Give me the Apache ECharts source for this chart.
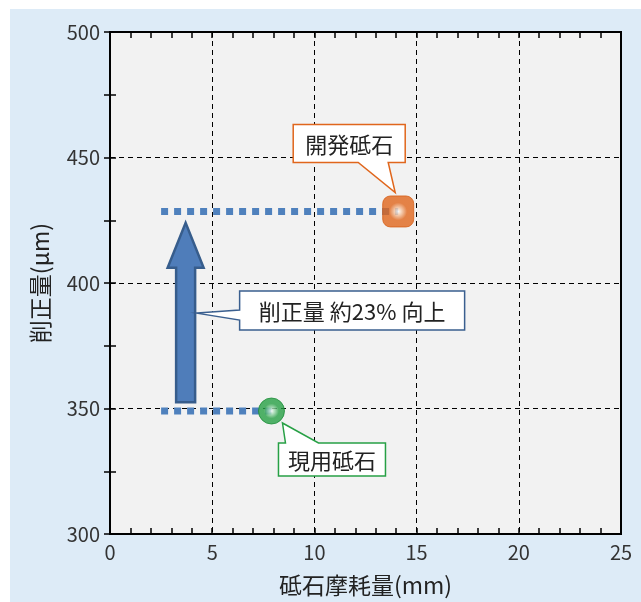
<!DOCTYPE html>
<html>
<head>
<meta charset="utf-8">
<script src="https://cdn.jsdelivr.net/npm/echarts@6/dist/echarts.min.js"></script>
<style>
  html, body { margin: 0; padding: 0; background: #ffffff; }
  #panel { position: absolute; left: 10px; top: 9px; right: 0; bottom: 0; background: #ddebf7; }
  #main { position: absolute; left: 0; top: 0; width: 641px; height: 602px; }
</style>
</head>
<body>
<div id="panel"></div>
<div id="main"></div>
<script>
// データ
var stoneNames = ['現用砥石', '開発砥石'];
var wearMm = [7.9, 14.1];          // 砥石摩耗量
var removalUm = [349, 428.5];      // 削正量
var guideStartMm = 2.5;            // 点線の始点
var arrowX = [3.7];
var arrowFrom = [352.5];
var arrowTo = [424];
var arrowNote = ['削正量 約23% 向上'];
var arrowNoteAt = [388];

var X_MIN = 0, X_MAX = 25, X_STEP = 5;
var Y_MIN = 300, Y_MAX = 500, Y_STEP = 50;

var FONT = '"Noto Sans CJK JP", "Noto Sans", sans-serif';
var stoneColors = ['#27a045', '#e0661c'];
var stoneEdge = ['#1f8f3b', '#d65f18'];

// 吹き出しの形 (アンカーからのピクセル)
var bubbles = [
    // 現用砥石: 下に箱、しっぽは上
    {box: [7, 32, 107, 33], tail: 'top', base: [14, 47], tip: [11, 12]},
    // 開発砥石: 上に箱、しっぽは下
    {box: [-105, -87, 112, 38], tail: 'bottom', base: [-40, -10], tip: [-3, -19]}
];

function bubblePoints(cx, cy, b) {
    var x0 = cx + b.box[0], y0 = cy + b.box[1];
    var x1 = x0 + b.box[2], y1 = y0 + b.box[3];
    var tip = [cx + b.tip[0], cy + b.tip[1]];
    if (b.tail === 'top') {
        return [[x0, y0], [cx + b.base[0], y0], tip, [cx + b.base[1], y0], [x1, y0], [x1, y1], [x0, y1]];
    }
    if (b.tail === 'bottom') {
        return [[x0, y0], [x1, y0], [x1, y1], [cx + b.base[1], y1], tip, [cx + b.base[0], y1], [x0, y1]];
    }
    // left
    return [[x0, y0], [x1, y0], [x1, y1], [x0, y1], [x0, cy + b.base[1]], tip, [x0, cy + b.base[0]]];
}

var chartDom = document.getElementById('main');
var myChart = echarts.init(chartDom);
var option;

var markerData = stoneNames.map(function (name, i) {
    return {
        name: name,
        value: [wearMm[i], removalUm[i]],
        symbol: i === 0 ? 'circle' : 'roundRect',
        symbolSize: i === 0 ? 26 : 31,
        itemStyle: {
            color: {
                type: 'radial', x: 0.5, y: 0.5, r: 0.5,
                colorStops: [
                    {offset: 0, color: '#ffffff'},
                    {offset: 0.12, color: i === 0 ? '#c8ecd2' : '#fbe0c8'},
                    {offset: 0.55, color: stoneColors[i]},
                    {offset: 1, color: stoneColors[i]}
                ]
            },
            borderColor: stoneEdge[i],
            borderWidth: 1
        }
    };
});

var guideSeries = stoneNames.map(function (name, i) {
    return {
        type: 'line',
        data: [[guideStartMm, removalUm[i]], [wearMm[i], removalUm[i]]],
        symbol: 'none',
        silent: true,
        lineStyle: {color: '#4f81bd', width: 7, type: [7, 6], cap: 'butt'},
        z: 3
    };
});

function frameAxis(pos, isX) {
    var ax = {
        type: 'value',
        position: pos,
        min: isX ? X_MIN : Y_MIN,
        max: isX ? X_MAX : Y_MAX,
        interval: isX ? X_STEP : Y_STEP,
        axisLine: {show: true, lineStyle: {color: '#000', width: 2}},
        axisTick: {show: true, inside: true, length: 6, lineStyle: {color: '#000', width: 1.5}},
        minorTick: {show: true, splitNumber: isX ? 5 : 2, length: 6, lineStyle: {color: '#000', width: 1.5}},
        axisLabel: {show: false},
        splitLine: {show: false}
    };
    return ax;
}

var xMain = frameAxis('bottom', true);
xMain.name = '砥石摩耗量(mm)';
xMain.nameLocation = 'middle';
xMain.nameGap = 40;
xMain.nameTextStyle = {fontSize: 23, color: '#222', fontFamily: FONT};
xMain.axisLabel = {show: true, fontSize: 20, color: '#333', margin: 8, fontFamily: FONT};
xMain.splitLine = {show: true, lineStyle: {color: '#000', type: [5, 4], width: 1}};

var yMain = frameAxis('left', false);
yMain.name = '削正量(μm)';
yMain.nameLocation = 'middle';
yMain.nameRotate = 90;
yMain.nameGap = 58;
yMain.nameTextStyle = {fontSize: 23, color: '#222', fontFamily: FONT};
yMain.axisLabel = {show: true, fontSize: 20, color: '#333', margin: 10, fontFamily: FONT};
yMain.splitLine = {show: true, lineStyle: {color: '#000', type: [5, 4], width: 1}};

option = {
    backgroundColor: 'transparent',
    animation: false,
    textStyle: {fontFamily: FONT},
    grid: {
        left: 110, top: 32, right: 20, bottom: 65,
        show: true,
        backgroundColor: '#f2f2f2',
        borderColor: '#000',
        borderWidth: 2
    },
    xAxis: [xMain, frameAxis('top', true)],
    yAxis: [yMain, frameAxis('right', false)],
    series: guideSeries.concat([
        {
            // 上向き矢印
            type: 'custom',
            data: arrowX.map(function (x, i) { return [x, arrowFrom[i], arrowTo[i]]; }),
            z: 4,
            renderItem: function (params, api) {
                var b = api.coord([api.value(0), api.value(1)]);
                var t = api.coord([api.value(0), api.value(2)]);
                var bw = 9.5, hw = 18, hh = 45;
                var cx = b[0];
                return {
                    type: 'polygon',
                    shape: {points: [
                        [cx - bw, b[1]], [cx - bw, t[1] + hh], [cx - hw, t[1] + hh],
                        [cx, t[1]], [cx + hw, t[1] + hh], [cx + bw, t[1] + hh], [cx + bw, b[1]]
                    ]},
                    style: {fill: '#4f7dba', stroke: '#375d8c', lineWidth: 2.5}
                };
            }
        },
        {
            type: 'scatter',
            data: markerData,
            z: 5
        },
        {
            // 吹き出し (砥石)
            type: 'custom',
            data: stoneNames.map(function (n, i) { return [wearMm[i], removalUm[i], i]; }),
            z: 6,
            renderItem: function (params, api) {
                var i = api.value(2);
                var c = api.coord([api.value(0), api.value(1)]);
                var b = bubbles[i];
                return {
                    type: 'group',
                    children: [
                        {
                            type: 'polygon',
                            shape: {points: bubblePoints(c[0], c[1], b)},
                            style: {fill: '#ffffff', stroke: stoneColors[i], lineWidth: 1.5}
                        },
                        {
                            type: 'text',
                            style: {
                                x: c[0] + b.box[0] + b.box[2] / 2,
                                y: c[1] + b.box[1] + b.box[3] / 2 + 1,
                                text: stoneNames[i],
                                align: 'center', verticalAlign: 'middle',
                                font: '22px ' + FONT,
                                fill: '#222'
                            }
                        }
                    ]
                };
            }
        },
        {
            // 吹き出し (向上)
            type: 'custom',
            data: arrowX.map(function (x, i) { return [x, arrowNoteAt[i], i]; }),
            z: 6,
            renderItem: function (params, api) {
                var c = api.coord([api.value(0), api.value(1)]);
                var b = {box: [54, -22, 225, 39], tail: 'left', base: [-3, 7], tip: [11, 0]};
                return {
                    type: 'group',
                    children: [
                        {
                            type: 'polygon',
                            shape: {points: bubblePoints(c[0], c[1], b)},
                            style: {fill: '#ffffff', stroke: '#3a5f8f', lineWidth: 1.5}
                        },
                        {
                            type: 'text',
                            style: {
                                x: c[0] + b.box[0] + b.box[2] / 2,
                                y: c[1] + b.box[1] + b.box[3] / 2 + 1,
                                text: arrowNote[api.value(2)],
                                align: 'center', verticalAlign: 'middle',
                                font: '22px ' + FONT,
                                fill: '#222'
                            }
                        }
                    ]
                };
            }
        }
    ])
};

option && myChart.setOption(option);
</script>
</body>
</html>
